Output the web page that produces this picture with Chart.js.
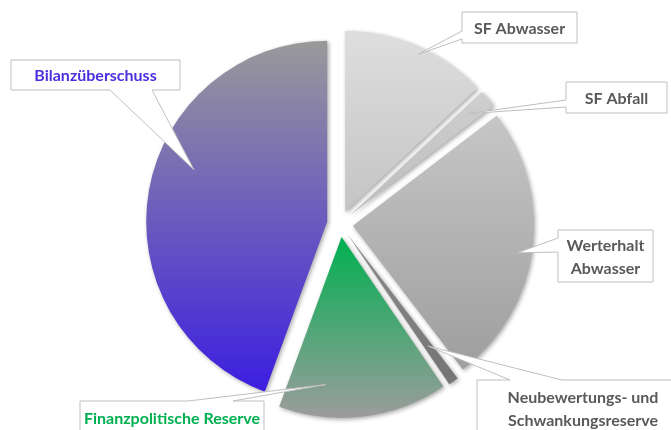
<!DOCTYPE html>
<html>
<head>
<meta charset="utf-8">
<script src="https://cdn.jsdelivr.net/npm/chart.js@4.4.1/dist/chart.umd.min.js"></script>
<style>
  html, body { margin: 0; padding: 0; background: #fff; }
  #wrap { width: 671px; height: 430px; position: relative; }
</style>
</head>
<body>
<div id="wrap"><canvas id="pie"></canvas></div>
<script>
// Anteile (in %), im Uhrzeigersinn ab 12 Uhr
const kategorien = ["SF Abwasser", "SF Abfall", "Werterhalt Abwasser", "Neubewertungs- und Schwankungsreserve", "Finanzpolitische Reserve", "Bilanzüberschuss"];
const anteile = [13.0, 1.6, 25.0, 0.9, 15.1, 44.4];
const verlaufOben = ["#dedede", "#cfcfcf", "#c6c6c6", "#8c8c8c", "#00b050", "#9a9a9a"];
const verlaufUnten = ["#c4c4c4", "#bcbcbc", "#9e9e9e", "#747474", "#9c9c9c", "#3c1ee0"];

const explode = 13;

// Beschriftungen: Kasten, Zeilen, Spitze (Anteil im Winkel / Radius)
const labels = [
  { box: [462, 12, 115, 31], lines: ["SF Abwasser"], color: "#595959", side: "left", base: [31, 39], tip: [0.53, 0.96] },
  { box: [566, 82, 101, 31], lines: ["SF Abfall"], color: "#595959", side: "left", base: [100, 107], tip: [0.4, 0.86] },
  { box: [558, 230, 95, 52], lines: ["Werterhalt", "Abwasser"], color: "#595959", side: "left", base: [238, 252], tip: [0.52, 0.92] },
  { box: [477, 380, 230, 70], lines: ["Neubewertungs- und", "Schwankungsreserve"], color: "#595959", side: "top", base: [510, 562], tip: [0.5, 0.76], tx: 583 },
  { box: [80, 401, 184, 50], lines: ["Finanzpolitische Reserve"], color: "#00b050", side: "top", base: [188, 233], tip: [0.74, 0.82] },
  { box: [11, 60, 169, 30], lines: ["Bilanzüberschuss"], color: "#4b2ee0", side: "bottom", base: [110, 152], tip: [0.57, 0.79] }
];

function sliceGeom(chart, i) {
  const area = chart.chartArea;
  const r = Math.min(area.right - area.left, area.bottom - area.top) / 2;
  const total = anteile.reduce((a, b) => a + b, 0);
  let sum = 0;
  for (let k = 0; k < i; k++) sum += anteile[k];
  const a0 = -Math.PI / 2 + sum / total * 2 * Math.PI;
  const a1 = a0 + anteile[i] / total * 2 * Math.PI;
  const mid = (a0 + a1) / 2;
  const cx = (area.left + area.right) / 2 + Math.cos(mid) * explode;
  const cy = (area.top + area.bottom) / 2 + Math.sin(mid) * explode;
  return { cx, cy, r, a0, a1 };
}

function sliceGradient(c) {
  const chart = c.chart;
  if (!chart.chartArea) return verlaufOben[c.dataIndex];
  const g = sliceGeom(chart, c.dataIndex);
  let top = g.cy, bottom = g.cy;
  for (let t = 0; t <= 40; t++) {
    const a = g.a0 + (g.a1 - g.a0) * t / 40;
    const y = g.cy + Math.sin(a) * g.r;
    top = Math.min(top, y);
    bottom = Math.max(bottom, y);
  }
  const grad = chart.ctx.createLinearGradient(0, top, 0, bottom);
  grad.addColorStop(0, verlaufOben[c.dataIndex]);
  grad.addColorStop(1, verlaufUnten[c.dataIndex]);
  return grad;
}

// Segmente herausrücken
const explodePlugin = {
  id: "explode",
  afterDatasetUpdate(chart, args) {
    args.meta.data.forEach((arc) => {
      const mid = (arc.startAngle + arc.endAngle) / 2;
      arc.x += Math.cos(mid) * explode;
      arc.y += Math.sin(mid) * explode;
    });
  },
  beforeDatasetsDraw(chart) {
    const ctx = chart.ctx;
    ctx.save();
    ctx.shadowColor = "rgba(0,0,0,0.35)";
    ctx.shadowBlur = 4;
    ctx.shadowOffsetX = 1.5;
    ctx.shadowOffsetY = 1.5;
  },
  afterDatasetsDraw(chart) {
    chart.ctx.restore();
  }
};

// Legenden-Kästen mit Zeiger
const calloutPlugin = {
  id: "callouts",
  afterDraw(chart) {
    const ctx = chart.ctx;
    const arcs = chart.getDatasetMeta(0).data;
    labels.forEach((lb, i) => {
      const arc = arcs[i];
      const a = arc.startAngle + (arc.endAngle - arc.startAngle) * lb.tip[0];
      const tx = arc.x + Math.cos(a) * arc.outerRadius * lb.tip[1];
      const ty = arc.y + Math.sin(a) * arc.outerRadius * lb.tip[1];
      const [x, y, w, h] = lb.box;
      ctx.save();
      ctx.beginPath();
      ctx.moveTo(x, y);
      if (lb.side === "top") {
        ctx.lineTo(lb.base[0], y); ctx.lineTo(tx, ty); ctx.lineTo(lb.base[1], y);
      }
      ctx.lineTo(x + w, y);
      ctx.lineTo(x + w, y + h);
      if (lb.side === "bottom") {
        ctx.lineTo(lb.base[1], y + h); ctx.lineTo(tx, ty); ctx.lineTo(lb.base[0], y + h);
      }
      ctx.lineTo(x, y + h);
      if (lb.side === "left") {
        ctx.lineTo(x, lb.base[1]); ctx.lineTo(tx, ty); ctx.lineTo(x, lb.base[0]);
      }
      ctx.closePath();
      ctx.fillStyle = "#ffffff";
      ctx.fill();
      ctx.strokeStyle = "#bfbfbf";
      ctx.lineWidth = 1;
      ctx.stroke();

      ctx.fillStyle = lb.color;
      ctx.font = "bold 16px Lato, 'Open Sans', sans-serif";
      ctx.textAlign = "center";
      ctx.textBaseline = "middle";
      const cx = lb.tx || (x + w / 2);
      const lh = 23;
      const startY = lb.side === "top" ? y + 18 : y + h / 2 - (lb.lines.length - 1) * lh / 2 + 1;
      lb.lines.forEach((t, k) => ctx.fillText(t, cx, startY + k * lh));
      ctx.restore();
    });
  }
};

new Chart(document.getElementById("pie"), {
  type: "pie",
  data: {
    labels: kategorien,
    datasets: [{
      data: anteile,
      backgroundColor: sliceGradient,
      borderWidth: 0,
      hoverOffset: 0
    }]
  },
  options: {
    responsive: true,
    maintainAspectRatio: false,
    animation: false,
    layout: { padding: { top: 43, bottom: 25, left: 159, right: 150 } },
    plugins: {
      legend: { display: false },
      tooltip: { enabled: false }
    },
    events: []
  },
  plugins: [explodePlugin, calloutPlugin]
});
</script>
</body>
</html>
